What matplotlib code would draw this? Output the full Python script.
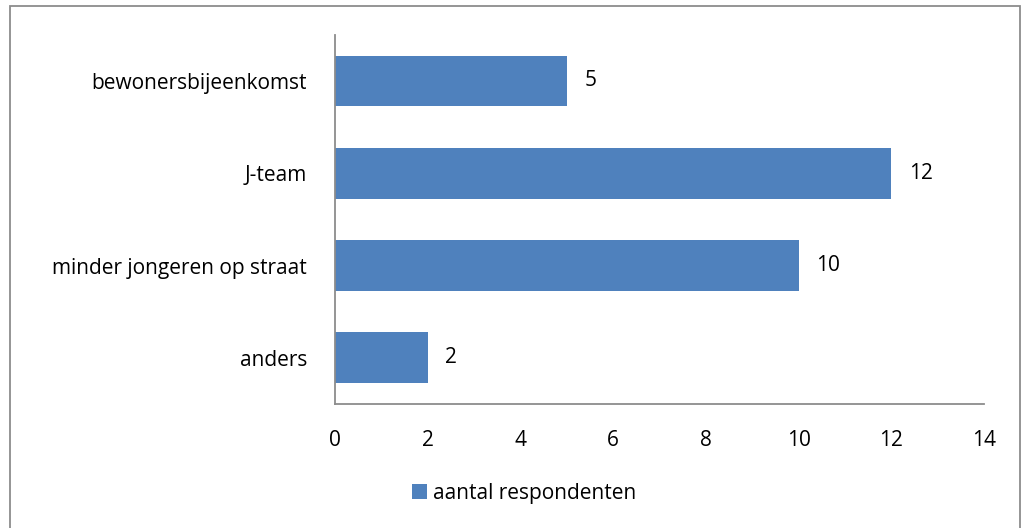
import matplotlib
matplotlib.use("Agg")
import matplotlib.pyplot as plt
from matplotlib.patches import Rectangle

categories = ["bewonersbijeenkomst", "J-team", "minder jongeren op straat", "anders"]
values = [5, 12, 10, 2]
series_name = "aantal respondenten"
xticks = [0, 2, 4, 6, 8, 10, 12, 14]

plt.rcParams["font.family"] = ["Open Sans", "DejaVu Sans"]

fig = plt.figure(figsize=(10.24, 5.28), dpi=100)
ax = fig.add_axes([0.327, 0.235, 0.634, 0.699])

bar_color = "#4F81BD"
ypos = list(range(len(categories)))
bars = ax.barh(ypos, values, height=0.55, color=bar_color, label=series_name)
ax.set_ylim(len(categories) - 0.5, -0.5)
ax.set_xlim(0, 14)
ax.set_xticks(xticks)
ax.set_yticks(ypos)
ax.set_yticklabels(categories, fontsize=15)
ax.tick_params(axis="x", labelsize=15, length=0, pad=19)
ax.tick_params(axis="y", length=0, pad=20)

for spine in ["top", "right"]:
    ax.spines[spine].set_visible(False)
for spine in ["left", "bottom"]:
    ax.spines[spine].set_color("#8c8c8c")
    ax.spines[spine].set_linewidth(1.3)

for y, v in zip(ypos, values):
    ax.text(v + 0.38, y, str(v), va="center", ha="left", fontsize=15)

fig.legend(handles=[bars], labels=[series_name], loc="center",
           bbox_to_anchor=(0.512, 0.066), frameon=False, fontsize=15,
           handlelength=0.7, handleheight=0.7, handletextpad=0.3)

fig.patches.append(Rectangle((10 / 1024, -0.01), 1010 / 1024, 1 - 6 / 528 + 0.01,
                             transform=fig.transFigure, fill=False,
                             edgecolor="#8c8c8c", linewidth=1.3))

fig.savefig("out.png", dpi=100)
